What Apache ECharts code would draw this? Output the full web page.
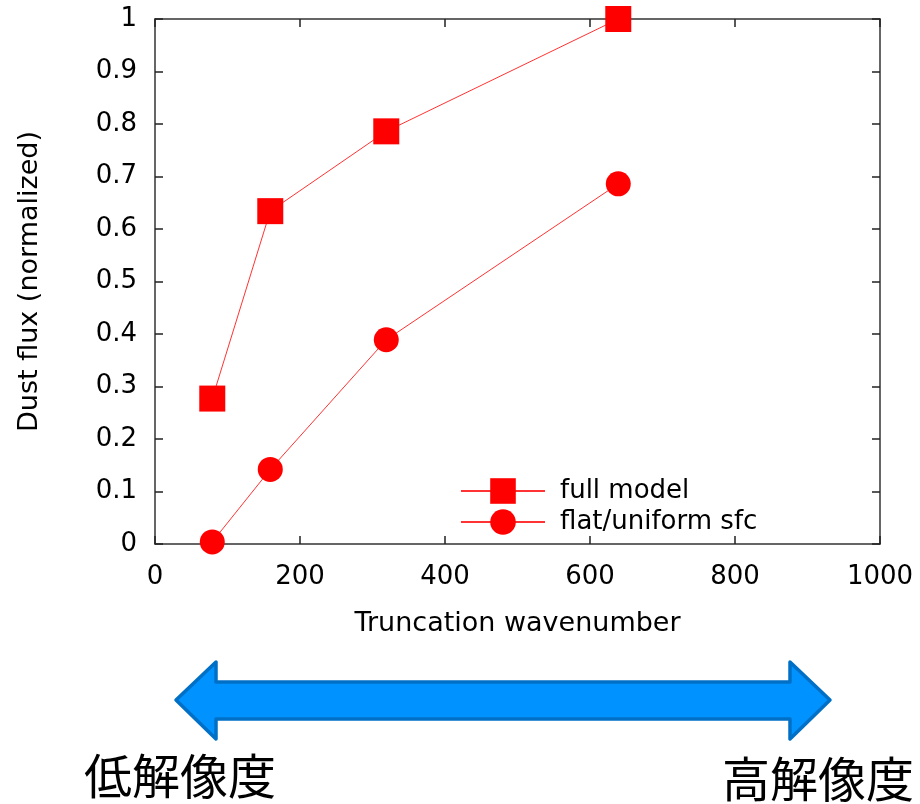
<!DOCTYPE html>
<html>
<head>
<meta charset="utf-8">
<script src="https://cdn.jsdelivr.net/npm/echarts@6/dist/echarts.min.js"></script>
<style>
html, body { margin: 0; padding: 0; background: #fff; }
#main { width: 920px; height: 804px; }
</style>
</head>
<body>
<div id="main"></div>
<script>
// データ
var wavenumbers = [79, 159, 319, 639];
var fullModel = [0.277, 0.634, 0.786, 1.0];
var flatUniform = [0.004, 0.142, 0.389, 0.686];
var seriesNames = ['full model', 'flat/uniform sfc'];
var arrowLabels = ['低解像度', '高解像度'];

function pairs(xs, ys) {
    return xs.map(function (x, i) { return [x, ys[i]]; });
}

var chart = echarts.init(document.getElementById('main'));

var tickStyle = { show: true, inside: true, length: 8, lineStyle: { color: '#222', width: 1.5 } };
var lineAxis = { show: true, onZero: false, lineStyle: { color: '#333', width: 1.5 } };
var labelFont = { fontFamily: 'DejaVu Sans', fontSize: 26, color: '#000' };

var option = {
    backgroundColor: '#fff',
    animation: false,
    grid: {
        left: 155,
        right: 40,
        top: 19,
        bottom: 260,
        outerBoundsMode: 'none'
    },
    legend: {
        orient: 'vertical',
        left: 455,
        top: 473,
        itemWidth: 84,
        itemHeight: 32,
        itemGap: 5,
        textStyle: { fontFamily: 'DejaVu Sans', fontSize: 26, color: '#000', padding: [0, 0, 0, 10] },
        data: seriesNames
    },
    xAxis: [{
        type: 'value',
        min: 0,
        max: 1000,
        interval: 200,
        name: 'Truncation wavenumber',
        nameLocation: 'middle',
        nameGap: 66,
        nameTextStyle: { fontFamily: 'DejaVu Sans', fontSize: 27, color: '#000' },
        axisLine: lineAxis,
        axisTick: tickStyle,
        axisLabel: Object.assign({ margin: 20, formatter: function (v) { return String(v); } }, labelFont),
        splitLine: { show: false }
    }, {
        type: 'value',
        position: 'top',
        min: 0,
        max: 1000,
        interval: 200,
        axisLine: lineAxis,
        axisTick: tickStyle,
        axisLabel: { show: false },
        splitLine: { show: false }
    }],
    yAxis: [{
        type: 'value',
        min: 0,
        max: 1,
        interval: 0.1,
        name: 'Dust flux (normalized)',
        nameLocation: 'middle',
        nameGap: 112,
        nameTextStyle: { fontFamily: 'DejaVu Sans', fontSize: 27, color: '#000' },
        axisLine: lineAxis,
        axisTick: tickStyle,
        axisLabel: Object.assign({ margin: 18 }, labelFont),
        splitLine: { show: false }
    }, {
        type: 'value',
        position: 'right',
        min: 0,
        max: 1,
        interval: 0.1,
        axisLine: lineAxis,
        axisTick: tickStyle,
        axisLabel: { show: false },
        splitLine: { show: false }
    }],
    series: [{
        name: seriesNames[0],
        type: 'line',
        data: pairs(wavenumbers, fullModel),
        symbol: 'rect',
        symbolSize: 26,
        clip: false,
        itemStyle: { color: '#ff0000' },
        lineStyle: { color: '#ff3333', width: 1 }
    }, {
        name: seriesNames[1],
        type: 'line',
        data: pairs(wavenumbers, flatUniform),
        symbol: 'circle',
        symbolSize: 25,
        clip: false,
        itemStyle: { color: '#ff0000' },
        lineStyle: { color: '#ff3333', width: 1 }
    }],
    graphic: [{
        type: 'polygon',
        shape: {
            points: [[176, 700], [216, 662], [216, 682], [790, 682], [790, 662],
                     [830, 700], [790, 739], [790, 719], [216, 719], [216, 739]]
        },
        style: { fill: '#0092ff', stroke: '#0070c6', lineWidth: 3.5, lineJoin: 'round' }
    }, {
        type: 'text',
        left: 84,
        top: 752,
        style: { text: arrowLabels[0], font: '48px "Noto Sans CJK JP"', fill: '#000' }
    }, {
        type: 'text',
        left: 722,
        top: 755,
        style: { text: arrowLabels[1], font: '48px "Noto Sans CJK JP"', fill: '#000' }
    }]
};

chart.setOption(option);
window.addEventListener('resize', function () {
    chart.resize();
});
</script>
</body>
</html>
